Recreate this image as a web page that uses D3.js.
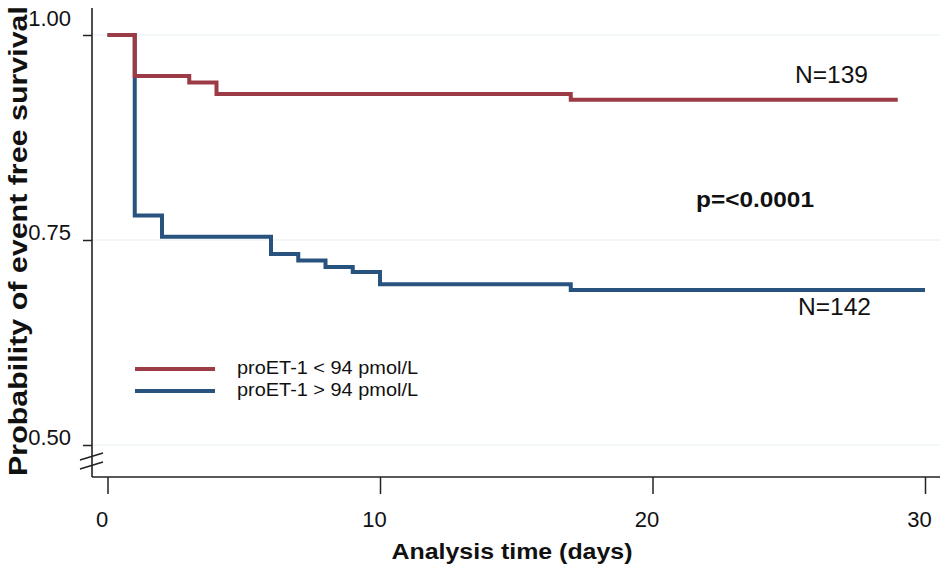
<html>
<head>
  <title>Event free survival</title>
  <script src='https://d3js.org/d3.v7.min.js'></script>
  <style>
    body { margin: 0; background: white; }
    text { font-family: 'Liberation Sans', Arial, sans-serif; fill: #111; }
  </style>
</head>
<body>
<script>

// Kaplan-Meier steps
var lowTimes  = [0, 1, 3, 4, 17, 29],
    lowSurv   = [1, 0.950, 0.942, 0.928, 0.921, 0.921],
    highTimes = [0, 1, 2, 6, 7, 8, 9, 10, 17, 30],
    highSurv  = [1, 0.780, 0.754, 0.733, 0.725, 0.717, 0.711, 0.696, 0.689, 0.689];

var groupNames = ["proET-1 < 94 pmol/L", "proET-1 > 94 pmol/L"],
    groupN = ["N=139", "N=142"],
    xTicks = [0, 10, 20, 30],
    yTicks = [0.50, 0.75, 1.00],
    pText = "p=<0.0001";

var width = 944,
    height = 573,
    red = "#9c3a45",
    blue = "#28537f";

var svg = d3.select('body')
          .append('svg')
          .attr('width', width)
          .attr('height', height);

var x = d3.scaleLinear().domain([0, 30]).range([107.5, 925]);
var y = d3.scaleLinear().domain([0.5, 1]).range([445, 35]);

var axisLeftX = 92,
    axisBottomY = 477;

// grid lines
svg.selectAll('line.grid')
   .data(yTicks)
   .enter()
   .append('line')
   .attr('class', 'grid')
   .attr('x1', axisLeftX)
   .attr('x2', 940)
   .attr('y1', function(d) { return y(d); })
   .attr('y2', function(d) { return y(d); })
   .attr('stroke', '#e6eff1')
   .attr('stroke-width', 1.2);

// y axis
var yAxis = svg.append('g')
   .attr('transform', 'translate(' + axisLeftX + ',0)')
   .call(d3.axisLeft(y).tickValues(yTicks).tickSize(9).tickPadding(12).tickSizeOuter(0)
     .tickFormat(d3.format('.2f')));

yAxis.select('.domain').remove();
yAxis.selectAll('.tick line').attr('stroke', '#222').attr('stroke-width', 1.5);
yAxis.selectAll('.tick text')
   .attr('dy', null)
   .attr('y', function(d) { return d === 1 ? -10 : -1; })
   .style('font-size', '22px')
   .attr('fill', '#111');

svg.append('line')
   .attr('x1', axisLeftX).attr('x2', axisLeftX)
   .attr('y1', 8).attr('y2', axisBottomY)
   .attr('stroke', '#222').attr('stroke-width', 1.6);

// axis break marks
[453, 462].forEach(function(b) {
  svg.append('line')
     .attr('x1', 80).attr('y1', b + 7)
     .attr('x2', 103).attr('y2', b)
     .attr('stroke', '#222').attr('stroke-width', 1.6);
});

// x axis
var xAxis = svg.append('g')
   .attr('transform', 'translate(0,' + axisBottomY + ')')
   .call(d3.axisBottom(x).tickValues(xTicks).tickSize(17).tickSizeOuter(0));

xAxis.select('.domain').remove();
xAxis.selectAll('.tick line').attr('stroke', '#222').attr('stroke-width', 1.5);
xAxis.selectAll('.tick text')
   .attr('dy', null)
   .attr('y', 50)
   .attr('dx', -6)
   .style('font-size', '22px')
   .attr('fill', '#111');

svg.append('line')
   .attr('x1', axisLeftX).attr('x2', 940)
   .attr('y1', axisBottomY).attr('y2', axisBottomY)
   .attr('stroke', '#222').attr('stroke-width', 1.6);

// axis titles
svg.append('text')
   .attr('x', 512)
   .attr('y', 559)
   .attr('text-anchor', 'middle')
   .attr('font-weight', 'bold')
   .style('font-size', '22px')
   .attr('textLength', 241)
   .attr('lengthAdjust', 'spacingAndGlyphs')
   .text('Analysis time (days)');

svg.append('text')
   .attr('transform', 'translate(27,241)rotate(-90)')
   .attr('text-anchor', 'middle')
   .attr('font-weight', 'bold')
   .style('font-size', '26px')
   .attr('textLength', 470)
   .attr('lengthAdjust', 'spacingAndGlyphs')
   .text('Probability of event free survival');

// survival curves
var step = d3.line()
   .x(function(d) { return x(d[0]); })
   .y(function(d) { return y(d[1]); })
   .curve(d3.curveStepAfter);

var curves = [
  {pts: d3.zip(highTimes, highSurv), color: blue},
  {pts: d3.zip(lowTimes, lowSurv), color: red}
];

svg.selectAll('path.km')
   .data(curves)
   .enter()
   .append('path')
   .attr('class', 'km')
   .attr('d', function(d) { return step(d.pts); })
   .attr('fill', 'none')
   .attr('stroke', function(d) { return d.color; })
   .attr('stroke-width', 4);

// N labels
svg.append('text').attr('x', 795).attr('y', 83)
   .style('font-size', '23px').attr('textLength', 73).attr('lengthAdjust', 'spacingAndGlyphs')
   .text(groupN[0]);
svg.append('text').attr('x', 798).attr('y', 315)
   .style('font-size', '23px').attr('textLength', 73).attr('lengthAdjust', 'spacingAndGlyphs')
   .text(groupN[1]);

svg.append('text').attr('x', 696).attr('y', 207)
   .attr('font-weight', 'bold')
   .style('font-size', '22px').attr('textLength', 118).attr('lengthAdjust', 'spacingAndGlyphs')
   .text(pText);

// legend
var legend = svg.selectAll('g.legend')
   .data(groupNames)
   .enter()
   .append('g')
   .attr('class', 'legend')
   .attr('transform', function(d, i) { return 'translate(0,' + (369 + 22 * i) + ')'; });

legend.append('line')
   .attr('x1', 135).attr('x2', 215)
   .attr('stroke', function(d, i) { return i === 0 ? red : blue; })
   .attr('stroke-width', 4);

legend.append('text')
   .attr('x', 237)
   .attr('y', 5)
   .style('font-size', '18px')
   .attr('textLength', 181)
   .attr('lengthAdjust', 'spacingAndGlyphs')
   .text(function(d) { return d; });

</script>
</body>
</html>
